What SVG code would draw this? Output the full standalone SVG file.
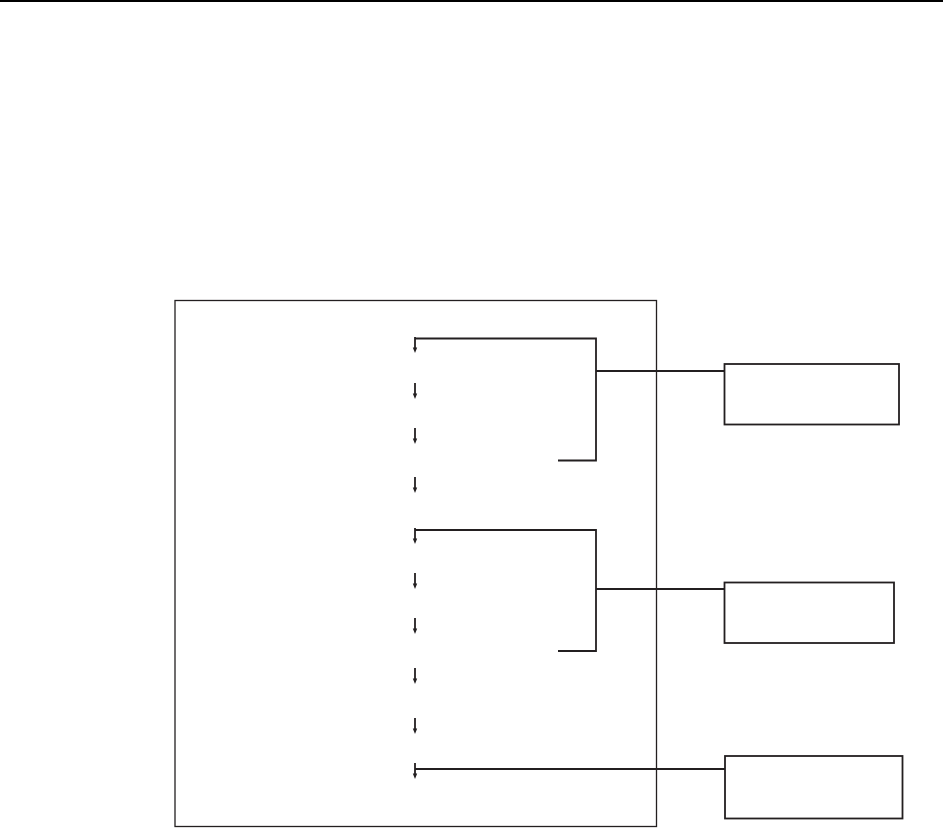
<svg xmlns="http://www.w3.org/2000/svg" width="943" height="836" viewBox="0 0 943 836">
<style>
.ln{stroke:#231f20;fill:none;stroke-width:1.8}
.bx{stroke:#231f20;fill:#fff;stroke-width:1.8}
.frame{stroke:#231f20;fill:none;stroke-width:1.3}
</style>
<defs>
<g id="arr">
<line x1="0" y1="0" x2="0" y2="12" stroke="#231f20" stroke-width="1.8"/>
<path d="M-2.2,10.5 L2.2,10.5 L0,16 Z" fill="#231f20"/>
</g>
</defs>
<rect x="0" y="0" width="943" height="836" fill="#fff"/>
<line x1="0" y1="1" x2="943" y2="1" stroke="#000" stroke-width="2"/>
<g id="frame"><rect class="frame" x="175" y="300.5" width="481.5" height="526"/></g>
<g id="arrows">
<use href="#arr" x="415" y="337"/>
<use href="#arr" x="415" y="383"/>
<use href="#arr" x="415" y="428"/>
<use href="#arr" x="415" y="477"/>
<use href="#arr" x="415" y="528"/>
<use href="#arr" x="415" y="573"/>
<use href="#arr" x="415" y="618"/>
<use href="#arr" x="415" y="668"/>
<use href="#arr" x="415" y="718"/>
<use href="#arr" x="415" y="763"/>
</g>
<g id="connectors">
<path class="ln" d="M415,338.5 H596 V460.5 H558"/>
<path class="ln" d="M596,371 H725"/>
<path class="ln" d="M415,530 H596 V651 H558"/>
<path class="ln" d="M596,589 H725"/>
<path class="ln" d="M415,769 H725"/>
</g>
<g id="box1"><rect class="bx" x="724.5" y="364" width="174.5" height="60.5"/></g>
<g id="box2"><rect class="bx" x="724.5" y="582.5" width="169.5" height="60.5"/></g>
<g id="box3"><rect class="bx" x="725" y="756" width="177.5" height="62.5"/></g>
</svg>
